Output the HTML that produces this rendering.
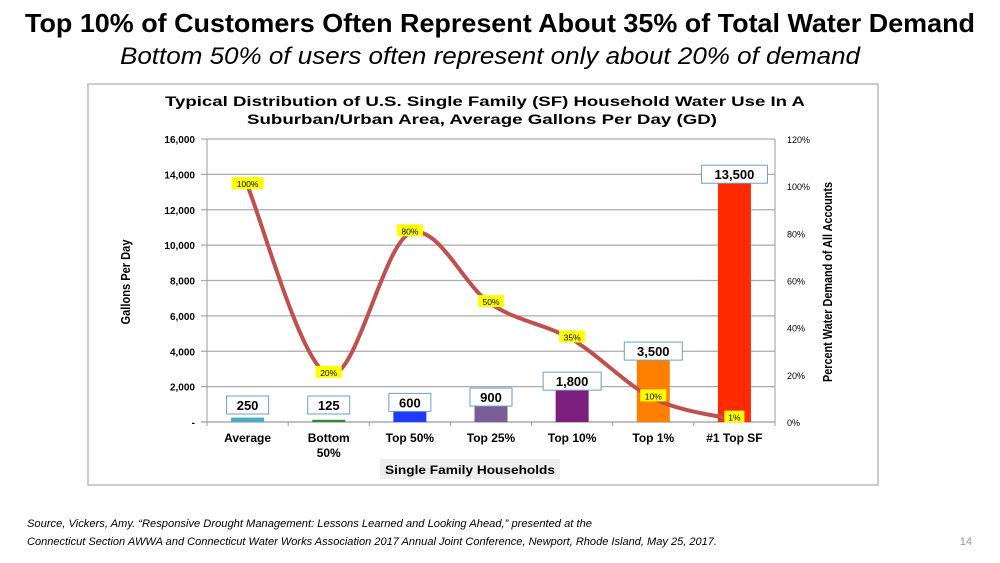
<!DOCTYPE html>
<html><head><meta charset="utf-8"><style>
html,body{margin:0;padding:0;background:#fff;}
svg{display:block;font-family:"Liberation Sans",sans-serif;}
</style></head><body>
<svg id="c" width="1000" height="563" viewBox="0 0 1000 563" xmlns="http://www.w3.org/2000/svg">
<text x="500" y="32" text-anchor="middle" font-size="26" font-weight="bold" textLength="950" lengthAdjust="spacingAndGlyphs" fill="#000">Top 10% of Customers Often Represent About 35% of Total Water Demand</text>
<text x="490" y="64" text-anchor="middle" font-size="24" font-style="italic" textLength="740" lengthAdjust="spacingAndGlyphs" fill="#000">Bottom 50% of users often represent only about 20% of demand</text>
<rect x="88" y="84" width="790" height="401" fill="#fff" stroke="#bbb" stroke-width="1.5"/>
<text x="485" y="106" text-anchor="middle" font-size="14" font-weight="bold" textLength="640" lengthAdjust="spacingAndGlyphs">Typical Distribution of U.S. Single Family (SF) Household Water Use In A</text>
<text x="482" y="124" text-anchor="middle" font-size="14" font-weight="bold" textLength="470" lengthAdjust="spacingAndGlyphs">Suburban/Urban Area, Average Gallons Per Day (GD)</text>
<g id="plot"></g>
<text transform="translate(130,282) rotate(-90)" text-anchor="middle" font-size="13" font-weight="bold" textLength="85" lengthAdjust="spacingAndGlyphs">Gallons Per Day</text>
<text transform="translate(832,282) rotate(-90)" text-anchor="middle" font-size="13" font-weight="bold" textLength="200" lengthAdjust="spacingAndGlyphs">Percent Water Demand of All Accounts</text>
<rect x="380" y="459" width="180" height="20" fill="#eee"/>
<text x="470" y="474" text-anchor="middle" font-size="12" font-weight="bold" textLength="170" lengthAdjust="spacingAndGlyphs">Single Family Households</text>
<text x="27" y="527" font-size="11" font-style="italic" textLength="565" lengthAdjust="spacingAndGlyphs">Source, Vickers, Amy. “Responsive Drought Management: Lessons Learned and Looking Ahead,” presented at the</text>
<text x="27" y="545" font-size="11" font-style="italic" textLength="690" lengthAdjust="spacingAndGlyphs">Connecticut Section AWWA and Connecticut Water Works Association 2017 Annual Joint Conference, Newport, Rhode Island, May 25, 2017.</text>
<text x="972" y="545" text-anchor="end" font-size="11" fill="#999">14</text>
</svg>
<script>
const categories=["Average","Bottom|50%","Top 50%","Top 25%","Top 10%","Top 1%","#1 Top SF"];
const gallons=[250,125,600,900,1800,3500,13500];
const gallonLabels=["250","125","600","900","1,800","3,500","13,500"];
const percents=[100,20,80,50,35,10,1];
const barColors=["#4bacc6","#2e8b3a","#1e3cff","#7a5c97","#7b1e7e","#ff7f00","#ff2a00"];
const yTicks=[0,2000,4000,6000,8000,10000,12000,14000,16000];
const yTickLabels=["-","2,000","4,000","6,000","8,000","10,000","12,000","14,000","16,000"];
const y2Ticks=[0,20,40,60,80,100,120];

const L=207,R=775,T=139,B=422;
const step=(R-L)/categories.length;
const xc=i=>L+step*(i+0.5);
const y=v=>B-(B-T)*v/16000;
const y2=v=>B-(B-T)*v/120;
const NS="http://www.w3.org/2000/svg";
const g=document.getElementById('plot');
function mk(tag,attrs,text){const e=document.createElementNS(NS,tag);for(const k in attrs)e.setAttribute(k,attrs[k]);if(text!==undefined)e.textContent=text;g.appendChild(e);return e;}

yTicks.forEach((t,i)=>{
  const l=mk('line',{x1:L-6,x2:R,y1:y(t),y2:y(t),stroke:i==0?'#999':'#aaa','stroke-width':1.3});
  
  
  const tx=mk('text',{x:L-12,y:y(t)+4,'text-anchor':'end','font-size':10,'font-weight':'bold'},yTickLabels[i]);
  
  
});
y2Ticks.forEach(t=>{
  const tx=mk('text',{x:R+12,y:y2(t)+4,'font-size':9},t+'%');
  
  
});
const ax=mk('line',{x1:L,x2:L,y1:T,y2:B+4,stroke:'#999','stroke-width':1});


const ax2=mk('line',{x1:R,x2:R,y1:T,y2:B,stroke:'#999','stroke-width':1});


for(let i=0;i<=categories.length;i++){
  const tk=mk('line',{x1:L+step*i,x2:L+step*i,y1:B,y2:B+4,stroke:'#999'});
  
  
}
categories.forEach((c,i)=>{
  const bw=33;
  const r=mk('rect',{x:xc(i)-bw/2,y:y(gallons[i]),width:bw,height:B-y(gallons[i]),fill:barColors[i]});
  
  
  const parts=c.split('|');
  parts.forEach((p,j)=>{
    const t=mk('text',{x:xc(i),y:B+20+j*15,'text-anchor':'middle','font-size':12,'font-weight':'bold'},p);
    
    
  });
  const lab=gallonLabels[i];
  const w=lab.length*8+18;
  const ly=Math.min(y(gallons[i])-9,B-17);
  const bx=mk('rect',{x:xc(i)-w/2,y:ly-9,width:w,height:18,fill:'#fff',stroke:'#6d9ec8','stroke-width':1});
  
  
  const lt=mk('text',{x:xc(i),y:ly+5,'text-anchor':'middle','font-size':13,'font-weight':'bold'},lab);
  
  
});
// smooth line (Catmull-Rom)
const pts=percents.map((p,i)=>[xc(i),y2(p)]);
let d='M'+pts[0][0]+','+pts[0][1];
for(let i=0;i<pts.length-1;i++){
  const p0=pts[i-1]||pts[i],p1=pts[i],p2=pts[i+1],p3=pts[i+2]||p2;
  const c1=[p1[0]+(p2[0]-p0[0])/6,p1[1]+(p2[1]-p0[1])/6];
  const c2=[p2[0]-(p3[0]-p1[0])/6,p2[1]-(p3[1]-p1[1])/6];
  d+=` C${c1[0]},${c1[1]} ${c2[0]},${c2[1]} ${p2[0]},${p2[1]}`;
}
const line=mk('path',{d:d,fill:'none',stroke:'#c0504d','stroke-width':4,'stroke-linecap':'round'});


pts.forEach((p,i)=>{
  const lab=percents[i]+'%';
  const w=lab.length*6+8;
  const r=mk('rect',{x:p[0]-w/2,y:p[1]-9,width:w,height:12,fill:'#ffff00'});
  
  
  const t=mk('text',{x:p[0],y:p[1]+1,'text-anchor':'middle','font-size':8.5},lab);
  
  
});
</script>
</body></html>
